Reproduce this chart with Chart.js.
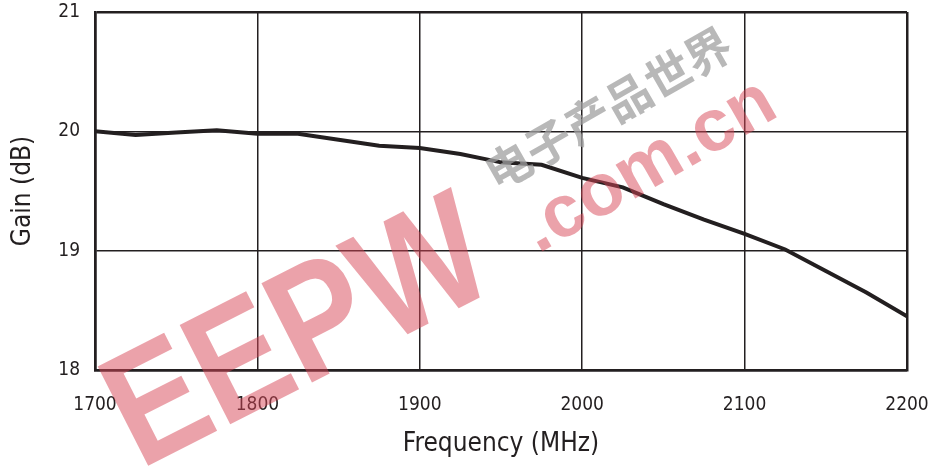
<!DOCTYPE html>
<html>
  <head>
    <meta charset="utf-8" />
    <script src="https://cdn.jsdelivr.net/npm/chart.js@4"></script>
    <style>
      html, body { margin: 0; padding: 0; background: white; }
    </style>
  </head>
  <body>
    <canvas id="chart" width="929" height="468"></canvas>
    <script>
      // values
      const freqs = [1700, 1725, 1750, 1775, 1800, 1825, 1850, 1875, 1900, 1925, 1950,
                     1975, 2000, 2025, 2050, 2075, 2100, 2125, 2150, 2175, 2200];
      const gain = [20.0, 19.97, 19.99, 20.01, 19.98, 19.98, 19.93, 19.88, 19.86, 19.81, 19.74,
                    19.72, 19.61, 19.53, 19.39, 19.26, 19.14, 19.01, 18.83, 18.65, 18.45];
      const xTicks = [1700, 1800, 1900, 2000, 2100, 2200];
      const yTicks = [18, 19, 20, 21];

      const ink = "#231f20";
      const font = "'DejaVu Sans Condensed', 'Liberation Sans', sans-serif";

      // the site watermark laid over the plot
      const watermark = {
        id: "watermark",
        afterDatasetsDraw(chart) {
          const ctx = chart.ctx;
          ctx.save();
          ctx.fillStyle = "rgba(215, 70, 85, 0.5)";
          ctx.translate(140, 470);
          ctx.rotate(-0.47);
          ctx.scale(0.85, 1);
          ctx.font = "bold 162px 'Liberation Sans', sans-serif";
          ctx.fillText("EEPW", 0, 0);
          ctx.restore();

          ctx.save();
          ctx.fillStyle = "rgba(215, 70, 85, 0.5)";
          ctx.translate(538, 254);
          ctx.rotate(-0.52);
          ctx.font = "bold 74px 'Liberation Sans', sans-serif";
          ctx.fillText(".com.cn", 0, 0);
          ctx.restore();

          ctx.save();
          ctx.fillStyle = "rgba(160, 160, 160, 0.75)";
          ctx.translate(497, 192);
          ctx.rotate(-0.52);
          ctx.font = "bold 46px 'Noto Sans CJK SC', sans-serif";
          ctx.fillText("电 子 产 品 世 界".replace(/ /g, ""), 0, 0);
          ctx.restore();
        }
      };

      new Chart(document.getElementById("chart"), {
        type: "line",
        data: {
          datasets: [{
            data: freqs.map((f, i) => ({ x: f, y: gain[i] })),
            borderColor: ink,
            borderWidth: 4,
            pointRadius: 0,
            tension: 0,
            fill: false
          }]
        },
        options: {
          responsive: false,
          animation: false,
          layout: { padding: { top: 12, right: 22 } },
          plugins: { legend: { display: false }, tooltip: { enabled: false } },
          scales: {
            x: {
              type: "linear",
              min: 1700,
              max: 2200,
              afterFit: (s) => { s.height = 98; s.paddingLeft = 0; s.paddingRight = 0; },
              afterBuildTicks: (s) => { s.ticks = xTicks.map(v => ({ value: v })); },
              grid: {
                color: ink,
                lineWidth: (c) => (c.index === 0 || c.index === xTicks.length - 1 ? 2.5 : 1.5),
                drawTicks: false
              },
              border: { color: ink, width: 2.5 },
              ticks: {
                color: ink,
                padding: 24,
                font: { family: font, size: 19 },
                callback: (v) => String(v)
              },
              title: {
                display: true,
                text: "Frequency (MHz)",
                color: ink,
                font: { family: font, size: 26 },
                padding: { top: 0, bottom: 8 }
              }
            },
            y: {
              min: 18,
              max: 21,
              afterFit: (s) => { s.width = 95; s.paddingTop = 0; s.paddingBottom = 0; },
              afterBuildTicks: (s) => { s.ticks = yTicks.map(v => ({ value: v })); },
              grid: {
                color: ink,
                lineWidth: (c) => (c.index === 0 || c.index === yTicks.length - 1 ? 2.5 : 1.5),
                drawTicks: false
              },
              border: { color: ink, width: 2.5 },
              ticks: {
                color: ink,
                padding: 15,
                font: { family: font, size: 19 },
                callback: (v) => String(v)
              },
              title: {
                display: true,
                text: "Gain (dB)",
                color: ink,
                font: { family: font, size: 26 },
                padding: { top: 8, bottom: 0 }
              }
            }
          }
        },
        plugins: [watermark]
      });
    </script>
  </body>
</html>
